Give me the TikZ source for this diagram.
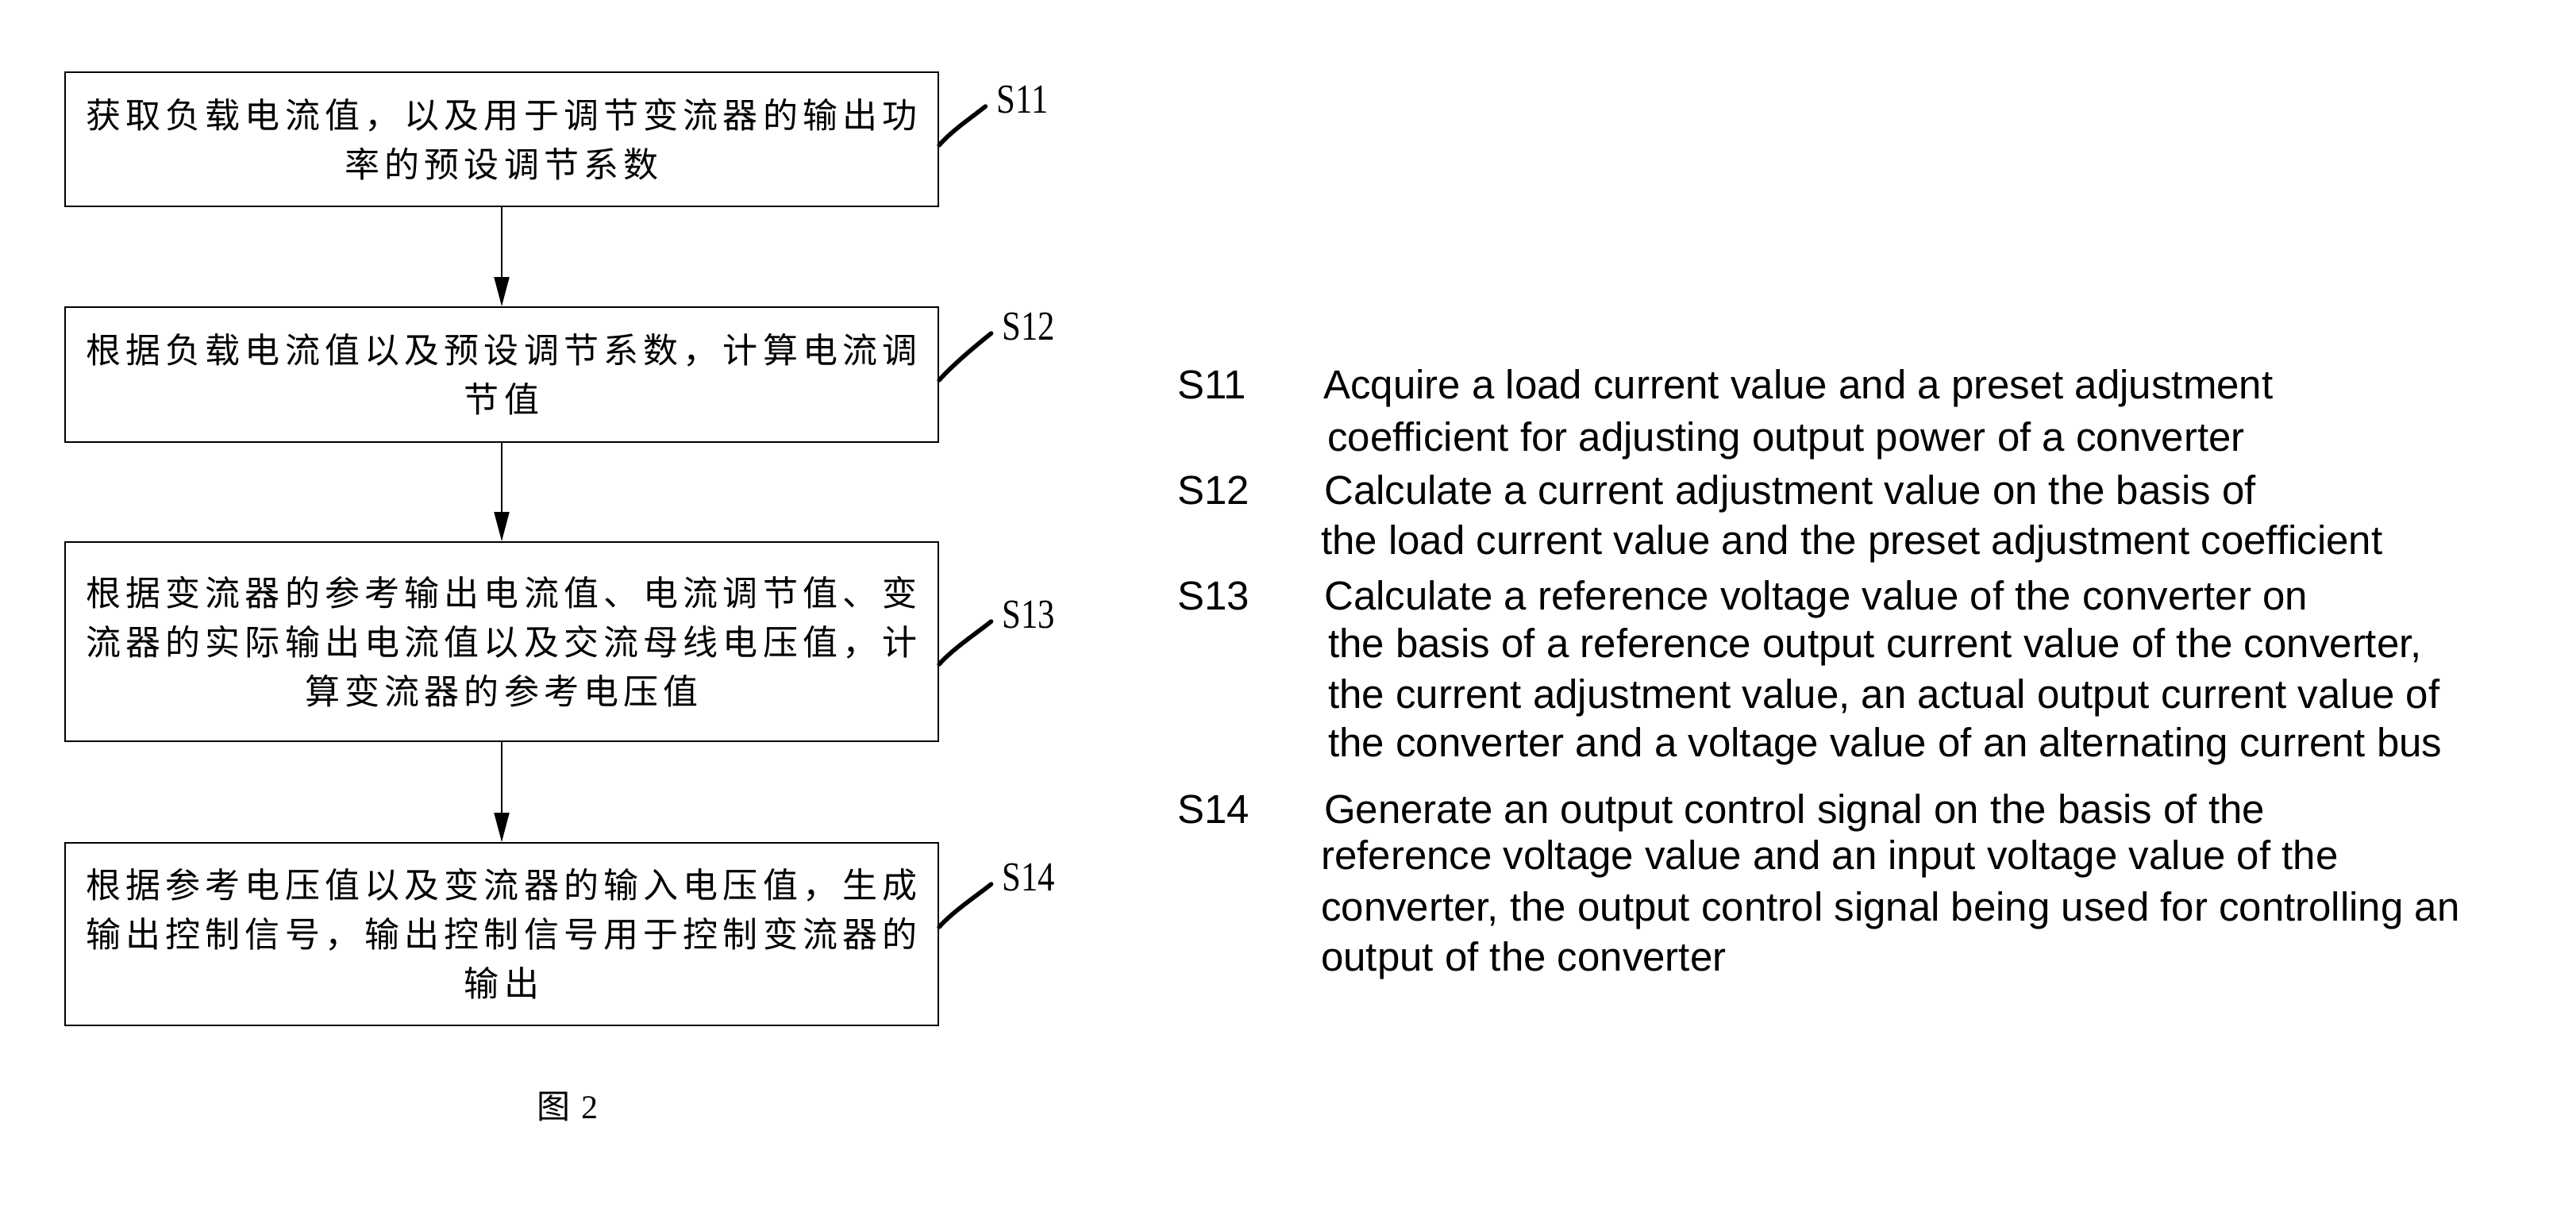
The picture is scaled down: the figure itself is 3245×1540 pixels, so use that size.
\documentclass[tikz,border=0pt]{standalone}
\usepackage{fontspec}
\setmainfont{Liberation Serif}
\setsansfont{Liberation Sans}
\newfontfamily\cjk[LetterSpace=14]{Noto Sans CJK SC}
\newfontfamily\cjkfig{Noto Sans CJK SC}
\newfontfamily\tagfont[FakeStretch=0.82]{Liberation Serif}
\usetikzlibrary{arrows.meta}

\tikzset{
  stepbox/.style={draw, line width=2pt, minimum width=1100pt, inner sep=0pt, align=center,
                  font=\cjk\fontsize{44}{62}\selectfont},
  flow/.style={line width=2pt, -{Triangle[length=37pt,width=19pt]}},
  leader/.style={line width=5.5pt, line cap=round},
  steptag/.style={inner sep=0pt, font=\tagfont\fontsize{52}{52}\selectfont},
  desc/.style={anchor=base west, inner sep=0pt, font=\sffamily\fontsize{51}{60}\selectfont},
}

\begin{document}
\begin{tikzpicture}[x=1pt, y=-1pt]

  %% ════ 流程框（左栏）════
  \node[stepbox, minimum height=169pt] (s11) at (632,175.5)
    {获取负载电流值，以及用于调节变流器的输出功\\率的预设调节系数};
  \node[stepbox, minimum height=170pt] (s12) at (632,472)
    {根据负载电流值以及预设调节系数，计算电流调\\节值};
  \node[stepbox, minimum height=251pt] (s13) at (632,808.5)
    {根据变流器的参考输出电流值、电流调节值、变\\流器的实际输出电流值以及交流母线电压值，计\\算变流器的参考电压值};
  \node[stepbox, minimum height=230pt] (s14) at (632,1177)
    {根据参考电压值以及变流器的输入电压值，生成\\输出控制信号，输出控制信号用于控制变流器的\\输出};

  \draw[flow] (s11) -- (s12);
  \draw[flow] (s12) -- (s13);
  \draw[flow] (s13) -- (s14);

  %% ════ 步骤编号 + 引线 ════
  \node[steptag] (tag11) at (1288,126) {S11};
  \node[steptag] (tag12) at (1296,412) {S12};
  \node[steptag] (tag13) at (1296,775) {S13};
  \node[steptag] (tag14) at (1296,1106) {S14};

  \draw[leader] ([yshift=-93pt]s11.north east) .. controls +(18,-20) and +(-20,16) .. ([xshift=-14pt,yshift=-8pt]tag11.west);
  \draw[leader] ([yshift=-93pt]s12.north east) .. controls +(18,-20) and +(-20,16) .. ([xshift=-14pt,yshift=-8pt]tag12.west);
  \draw[leader] ([yshift=-155pt]s13.north east) .. controls +(18,-20) and +(-20,16) .. ([xshift=-14pt,yshift=-8pt]tag13.west);
  \draw[leader] ([yshift=-107pt]s14.north east) .. controls +(18,-20) and +(-20,16) .. ([xshift=-14pt,yshift=-8pt]tag14.west);

  %% ════ 右栏英文说明（每行一个节点，基线对齐）════
  \node[desc] (e11) at (1483,502) {S11};
  \node[desc] (d11a) at (1667,502) {Acquire a load current value and a preset adjustment};
  \node[desc] (d11b) at (1672,568) {coefficient for adjusting output power of a converter};

  \node[desc] (e12) at (1483,635) {S12};
  \node[desc] (d12a) at (1668,635) {Calculate a current adjustment value on the basis of};
  \node[desc] (d12b) at (1664,698) {the load current value and the preset adjustment coefficient};

  \node[desc] (e13) at (1483,768) {S13};
  \node[desc] (d13a) at (1668,768) {Calculate a reference voltage value of the converter on};
  \node[desc] (d13b) at (1673,828) {the basis of a reference output current value of the converter,};
  \node[desc] (d13c) at (1673,892) {the current adjustment value, an actual output current value of};
  \node[desc] (d13d) at (1673,953) {the converter and a voltage value of an alternating current bus};

  \node[desc] (e14) at (1483,1037) {S14};
  \node[desc] (d14a) at (1668,1037) {Generate an output control signal on the basis of the};
  \node[desc] (d14b) at (1664,1095) {reference voltage value and an input voltage value of the};
  \node[desc] (d14c) at (1664,1160) {converter, the output control signal being used for controlling an};
  \node[desc] (d14d) at (1664,1223) {output of the converter};

  %% ════ 图号 ════
  \node[inner sep=0pt, font=\fontsize{42}{42}\selectfont] (fig) at (715,1394) {{\cjkfig 图}\hspace{0.35em}2};

  % 钉死画布
  \pgfresetboundingbox
  \path[use as bounding box] (0,0) rectangle (3245,1540);
\end{tikzpicture}
\end{document}
